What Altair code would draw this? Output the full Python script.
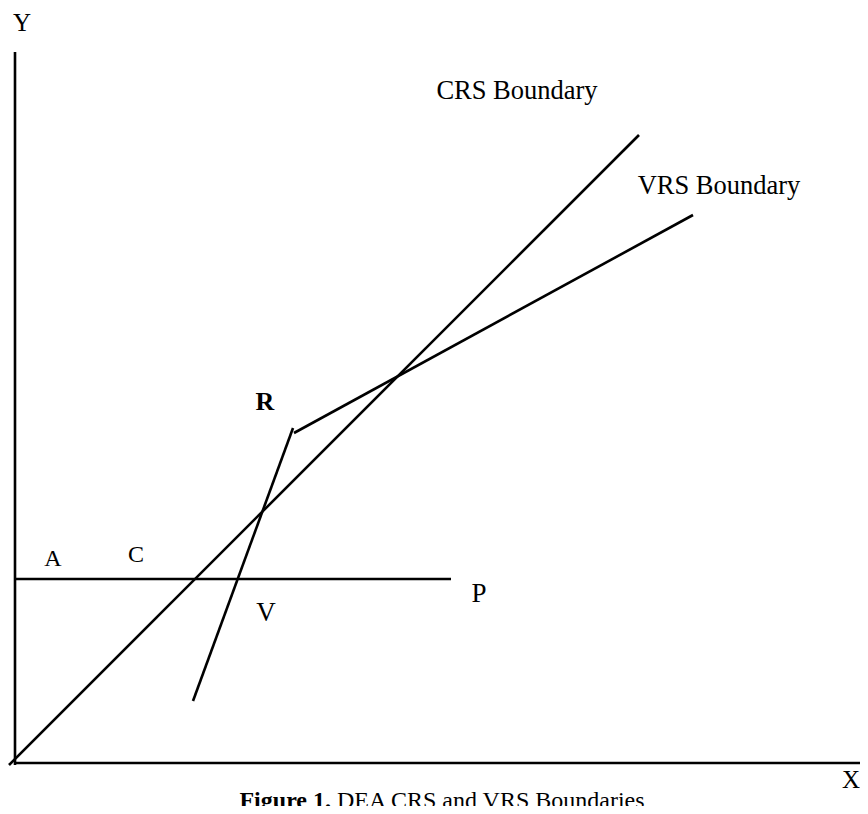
import altair as alt
import pandas as pd

# Line segments of the diagram (data units = offset from the origin)
seg_names = ["Y axis", "X axis", "CRS boundary", "VRS boundary", "VRS lower", "AP"]
seg_x1 = [0, 0, -6, 279, 178, 0]
seg_y1 = [-2, 0, -2, 330, 62, 184]
seg_x2 = [0, 853, 624, 678, 278, 436]
seg_y2 = [711, 0, 628, 548, 335, 184]

# Plain labels
lab_text = ["Y", "X", "CRS Boundary", "VRS Boundary", "A", "C", "P", "V"]
lab_x = [7, 836, 502, 704, 38, 121, 464, 251]
lab_y = [740, -17, 672, 577, 204, 208, 169, 150]
lab_size = [25, 25, 26.5, 26.5, 24, 24, 27, 27]

# Bold label
bold_text = ["R"]
bold_x = [250]
bold_y = [361]

# Caption
cap_bold = "Figure 1."
cap_rest = "DEA CRS and VRS Boundaries"
cap_x_bold = 316
cap_x_rest = 322
cap_y = -45

segs = pd.DataFrame({"name": seg_names, "x": seg_x1, "y": seg_y1, "x2": seg_x2, "y2": seg_y2})
labs = pd.DataFrame({"t": lab_text, "x": lab_x, "y": lab_y, "s": lab_size})
bolds = pd.DataFrame({"t": bold_text, "x": bold_x, "y": bold_y})
caps = pd.DataFrame({"t": [cap_bold, cap_rest], "x": [cap_x_bold, cap_x_rest], "y": [cap_y, cap_y]})

xs = alt.Scale(domain=[-7, 845], nice=False, zero=False)
ys = alt.Scale(domain=[-43, 755], nice=False, zero=False)
FONT = "Liberation Serif"

lines = alt.Chart(segs).mark_rule(color="black", strokeWidth=2.6, strokeCap="butt").encode(
    x=alt.X("x:Q", scale=xs, axis=None),
    y=alt.Y("y:Q", scale=ys, axis=None),
    x2="x2:Q",
    y2="y2:Q",
)

labels = alt.Chart(labs).mark_text(font=FONT, color="black", align="center", baseline="middle").encode(
    x=alt.X("x:Q", scale=xs, axis=None),
    y=alt.Y("y:Q", scale=ys, axis=None),
    text="t:N",
    size=alt.Size("s:Q", scale=None, legend=None),
)

bold_labels = alt.Chart(bolds).mark_text(font=FONT, color="black", fontWeight="bold", fontSize=26,
                                         align="center", baseline="middle").encode(
    x=alt.X("x:Q", scale=xs, axis=None),
    y=alt.Y("y:Q", scale=ys, axis=None),
    text="t:N",
)

cap1 = alt.Chart(caps.iloc[[0]]).mark_text(font=FONT, color="black", fontWeight="bold", fontSize=24,
                                          align="right", baseline="alphabetic").encode(
    x=alt.X("x:Q", scale=xs, axis=None),
    y=alt.Y("y:Q", scale=ys, axis=None),
    text="t:N",
)
cap2 = alt.Chart(caps.iloc[[1]]).mark_text(font=FONT, color="black", fontSize=24,
                                          align="left", baseline="alphabetic").encode(
    x=alt.X("x:Q", scale=xs, axis=None),
    y=alt.Y("y:Q", scale=ys, axis=None),
    text="t:N",
)

chart = alt.layer(lines, labels, bold_labels, cap1, cap2).properties(
    width=852, height=798, padding=0, autosize=alt.AutoSizeParams(type="none"),
    background="white",
).configure_view(stroke=None)

chart.save("out.html", embed_options={"renderer": "svg", "actions": False})
